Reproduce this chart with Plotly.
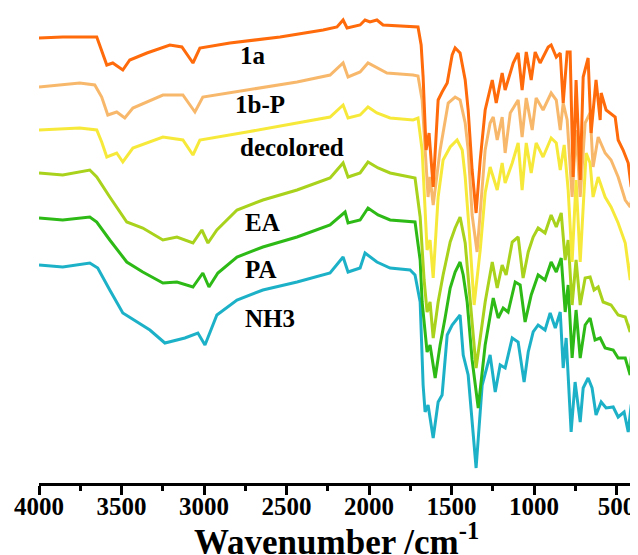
import plotly.graph_objects as go

# ---- data (wavenumber in cm^-1, transmittance offset in arbitrary units) ----
w_1a = [4000, 3856, 3650, 3620, 3589, 3553, 3492, 3450, 3346, 3207, 3134, 3067, 3025, 2843, 2539,
        2278, 2194, 2157, 2133, 2054, 2024, 1994, 1952, 1915, 1733, 1703, 1684, 1672, 1654, 1636,
        1611, 1581, 1557, 1526, 1496, 1478, 1448, 1417, 1399, 1375, 1351, 1326, 1296, 1253, 1229,
        1193, 1175, 1126, 1096, 1072, 1047, 1017, 993, 963, 914, 896, 865, 841, 823, 799, 781, 763,
        745, 720, 702, 672, 654, 624, 599, 593, 563, 508, 490, 460, 429, 411, 400]
t_1a = [445, 446, 446, 433, 418, 420, 413, 423, 430, 438, 436, 420, 435, 440, 446,
        453, 456, 463, 455, 458, 463, 461, 463, 458, 456, 456, 438, 406, 333, 350,
        296, 383, 391, 400, 428, 435, 430, 403, 373, 313, 270, 323, 373, 403, 380,
        410, 393, 420, 430, 393, 431, 403, 431, 420, 436, 438, 426, 430, 380, 431, 431, 306,
        403, 303, 406, 425, 350, 403, 363, 390, 373, 366, 343, 333, 320, 296, 370]

w_1bp = [4000, 3753, 3662, 3620, 3583, 3529, 3480, 3431, 3249, 3128, 3055, 3007, 2740, 2436, 2236,
         2157, 2127, 2054, 2006, 1952, 1891, 1733, 1703, 1678, 1660, 1642, 1630, 1611, 1569, 1520,
         1478, 1448, 1417, 1399, 1375, 1345, 1320, 1296, 1266, 1247, 1223, 1193, 1175, 1144, 1096,
         1072, 1047, 1011, 987, 945, 896, 865, 841, 823, 799, 769, 745, 720, 690, 660, 642, 611,
         569, 533, 490, 447, 417, 400]
t_1bp = [396, 400, 398, 386, 368, 371, 365, 375, 388, 388, 371, 386, 393, 401, 408,
         420, 406, 411, 420, 415, 410, 408, 407, 383, 333, 286, 306, 278, 333, 380,
         386, 383, 360, 333, 268, 231, 283, 333, 360, 366, 343, 366, 330, 370, 383,
         346, 385, 353, 385, 373, 390, 383, 353, 380, 363, 286, 353, 286, 360, 370, 316, 346,
         330, 323, 306, 283, 276, 290]

w_dec = [4000, 3753, 3650, 3620, 3589, 3529, 3492, 3431, 3249, 3128, 3067, 3025, 2740, 2436, 2236,
         2157, 2127, 2054, 2006, 1952, 1872, 1733, 1703, 1678, 1660, 1648, 1630, 1611, 1581, 1551,
         1508, 1466, 1435, 1417, 1393, 1363, 1326, 1296, 1266, 1223, 1193, 1175, 1132, 1096, 1072,
         1047, 1017, 987, 945, 896, 865, 841, 817, 793, 769, 745, 720, 684, 660, 642, 611, 569,
         533, 490, 447, 417, 400]
t_dec = [353, 355, 353, 341, 326, 330, 321, 335, 346, 343, 328, 343, 351, 360, 366,
         378, 365, 368, 376, 370, 365, 363, 365, 333, 273, 233, 243, 205, 286, 323,
         336, 343, 333, 306, 253, 178, 233, 290, 316, 293, 320, 300, 320, 340, 293,
         340, 310, 340, 326, 345, 340, 313, 338, 293, 221, 303, 221, 330, 320, 286, 306, 286,
         276, 260, 240, 203, 243]

w_ea = [4000, 3856, 3692, 3650, 3571, 3468, 3371, 3249, 3164, 3067, 3013, 2976, 2922, 2800, 2643,
        2436, 2236, 2157, 2127, 2054, 2006, 1945, 1872, 1751, 1721, 1690, 1666, 1648, 1630, 1611,
        1581, 1551, 1508, 1478, 1448, 1417, 1399, 1351, 1296, 1253, 1223, 1193, 1169, 1132, 1096,
        1084, 1066, 1035, 1005, 975, 933, 896, 865, 835, 811, 793, 769, 745, 720, 690, 660, 636,
        611, 581, 533, 490, 447, 417, 400]
t_ea = [310, 308, 313, 306, 286, 261, 255, 243, 246, 240, 253, 240, 253, 273, 283,
        293, 305, 320, 306, 310, 321, 315, 310, 306, 305, 266, 203, 171, 181, 145,
        181, 208, 241, 255, 266, 240, 208, 115, 181, 221, 195, 218, 208, 241, 246,
        228, 205, 231, 246, 255, 250, 268, 256, 270, 223, 243, 178, 223, 178, 205, 206, 193,
        196, 181, 178, 168, 166, 151, 171]

w_pa = [4000, 3856, 3692, 3650, 3571, 3468, 3371, 3249, 3164, 3067, 3007, 2970, 2916, 2800, 2643,
        2436, 2236, 2145, 2127, 2054, 2006, 1945, 1872, 1751, 1721, 1690, 1678, 1648, 1630, 1599,
        1569, 1539, 1508, 1478, 1448, 1429, 1405, 1375, 1338, 1296, 1247, 1217, 1187, 1157, 1114,
        1084, 1054, 1017, 975, 933, 896, 865, 835, 811, 793, 769, 745, 720, 690, 660, 630, 599,
        569, 520, 490, 447, 417, 400]
t_pa = [265, 263, 266, 261, 243, 221, 211, 200, 201, 196, 210, 196, 210, 226, 236,
        246, 258, 271, 260, 263, 275, 268, 263, 261, 261, 223, 181, 131, 138, 105,
        138, 165, 195, 211, 221, 208, 181, 123, 75, 138, 185, 165, 175, 171, 201,
        198, 161, 188, 208, 203, 221, 211, 225, 171, 198, 125, 173, 125, 158, 165, 143, 145,
        135, 133, 125, 125, 108, 150]

w_nh3 = [4000, 3856, 3692, 3644, 3571, 3492, 3328, 3237, 3116, 3037, 2994, 2922, 2800, 2643, 2436,
         2236, 2157, 2127, 2054, 2024, 1952, 1872, 1751, 1721, 1690, 1672, 1660, 1642, 1611, 1581,
         1557, 1526, 1496, 1466, 1448, 1429, 1399, 1351, 1314, 1266, 1235, 1205, 1175, 1132, 1096,
         1060, 1035, 1005, 975, 933, 902, 871, 841, 823, 805, 775, 751, 720, 702, 672, 648, 624,
         593, 563, 520, 490, 454, 429, 411, 400]
t_nh3 = [218, 216, 220, 215, 193, 170, 153, 140, 145, 150, 138, 168, 183, 193, 201,
         210, 226, 211, 215, 230, 221, 215, 213, 208, 181, 98, 71, 78, 45, 81,
         88, 148, 158, 165, 168, 128, 108, 15, 98, 128, 91, 118, 115, 145, 141,
         101, 131, 151, 158, 153, 170, 155, 171, 115, 145, 51, 101, 61, 95, 105, 95, 68,
         81, 75, 76, 66, 71, 51, 78, 83]

names = ["NH3", "PA", "EA", "decolored", "1b-P", "1a"]
colors = ["#1DB1C8", "#2DBA16", "#A8D21C", "#F7E93A", "#F8B86C", "#FF6A0A"]
wav = [w_nh3, w_pa, w_ea, w_dec, w_1bp, w_1a]
vals = [t_nh3, t_pa, t_ea, t_dec, t_1bp, t_1a]

# label positions (wavenumber, value)
label_x = [2764, 2764, 2764, 2793, 2824, 2793]
label_y = [165, 214, 261, 336, 379, 428]

FONT = "Liberation Serif, Times New Roman, serif"

fig = go.Figure()
for n, c, wv, v in zip(names, colors, wav, vals):
    fig.add_trace(go.Scatter(x=wv, y=v, mode="lines", name=n,
                             line=dict(color=c, width=3), showlegend=False))

for n, lx, ly in zip(names, label_x, label_y):
    fig.add_annotation(x=lx, y=ly, text="<b>%s</b>" % n, showarrow=False,
                       xanchor="left", yanchor="middle",
                       font=dict(family=FONT, size=25, color="black"))

# axis title as annotation (below the tick labels)
fig.add_annotation(x=0.5, y=0, xref="paper", yref="paper", yshift=-56,
                   text="<b>Wavenumber /cm<sup>-1</sup></b>", showarrow=False,
                   xanchor="center", yanchor="middle",
                   font=dict(family=FONT, size=35, color="black"))

# the page body adds an 8px offset at left/top, so the figure is 630x547
fig.update_layout(
    width=630, height=547,
    margin=dict(l=31, r=5, t=0, b=72),
    paper_bgcolor="white", plot_bgcolor="white",
    font=dict(family=FONT, color="black"),
)
fig.update_xaxes(
    range=[4000, 400], showline=True, linewidth=3, linecolor="black",
    ticks="outside", ticklen=9, tickwidth=3, tickcolor="black",
    tick0=500, dtick=500, showgrid=False, zeroline=False, automargin=False,
    tickfont=dict(family=FONT, size=25, color="black"),
    tickprefix="<b>", ticksuffix="</b>", ticklabelstandoff=-10,
    minor=dict(ticks="outside", ticklen=5, tickwidth=3, tickcolor="black", dtick=250, showgrid=False),
)
fig.update_yaxes(visible=False, range=[0, 475], showgrid=False, zeroline=False, automargin=False)

fig.write_html("out.html")
